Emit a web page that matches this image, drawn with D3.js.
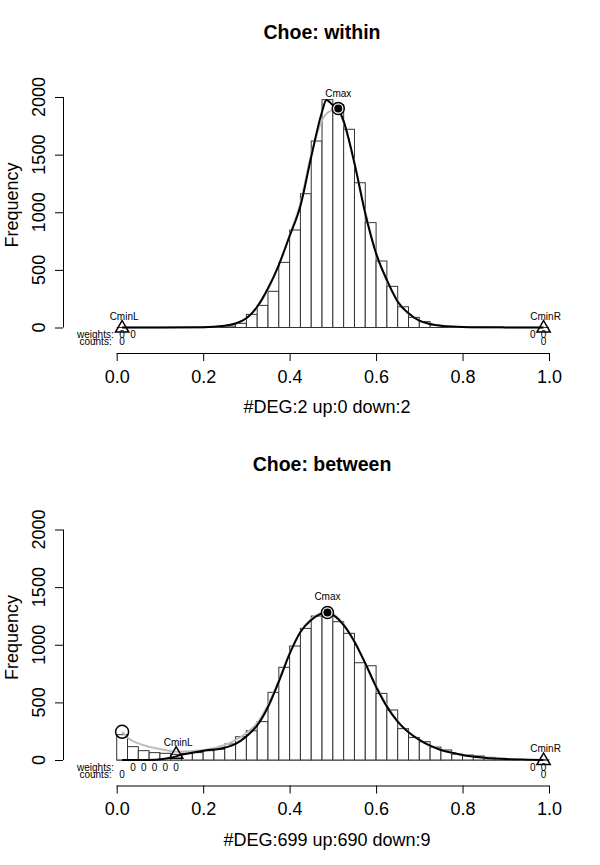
<!DOCTYPE html>
<html><head><meta charset="utf-8">
<script src="https://cdn.jsdelivr.net/npm/d3@7"></script>
<style>body{margin:0;background:#fff} text{font-family:"Liberation Sans",Arial,Helvetica,sans-serif;fill:#000}</style>
</head><body><svg id="c" width="600" height="865"></svg>
<script>
// ---------- data ----------
const titles = ["Choe: within", "Choe: between"];
const xLabels = ["#DEG:2 up:0 down:2", "#DEG:699 up:690 down:9"];
const xTicks = [0, 0.2, 0.4, 0.6, 0.8, 1.0];
const xTickLabels = ["0.0", "0.2", "0.4", "0.6", "0.8", "1.0"];
const yTicks = [0, 500, 1000, 1500, 2000];
const binWidth = 0.025;

const withinCounts = [0,0,0,0,0,0,0,0,0,3,12,36,114,192,314,565,846,1161,1618,1977,
                      1935,1720,1256,910,577,357,180,88,51,20,8,3,0,0,0,0,0,0,0,0];
const betweenCounts = [220,116,81,64,58,49,58,64,81,93,139,202,254,333,587,804,989,1142,1249,1265,
                       1200,1099,844,818,578,434,272,196,159,112,87,50,43,35,23,14,8,4,2,1];

const withinBlackX = [0.0125,0.1,0.2,0.25,0.275,0.3,0.325,0.35,0.375,0.4,0.425,0.45,0.475,0.485,0.5,0.5125,0.525,0.55,0.575,0.6,0.625,0.65,0.675,0.7,0.725,0.75,0.8,0.9,0.9875];
const withinBlackY = [0,0,3,15,35,80,180,340,542,794,1055,1482,1872,1974,1930,1900,1790,1424,990,643,412,224,123,59,30,15,5,1,0];
const withinGrayX = [0.0125,0.2,0.25,0.3,0.35,0.4,0.425,0.45,0.475,0.495,0.51,0.525,0.55,0.575,0.6,0.65,0.7,0.75,0.8,0.9,0.9875];
const withinGrayY = [0,3,15,80,330,800,1080,1500,1800,1880,1890,1780,1430,1000,650,230,60,15,5,0,0];

const betweenBlackX = [0.0125,0.05,0.09,0.125,0.15,0.2,0.25,0.275,0.3,0.325,0.35,0.375,0.4,0.425,0.45,0.4875,0.5,0.525,0.55,0.575,0.6,0.625,0.65,0.675,0.7,0.725,0.75,0.775,0.8,0.85,0.9,0.95,0.9875];
const betweenBlackY = [0,0,3,20,45,80,107,140,205,300,460,680,920,1110,1215,1280,1260,1171,1027,839,636,463,333,240,174,124,87,64,43,20,8,3,0];
const betweenGrayX = [0.0125,0.023,0.061,0.1,0.139,0.2,0.25,0.3,0.325,0.35,0.375,0.4,0.45,0.4875,0.525,0.55,0.6,0.65,0.7,0.8,0.9,0.9875];
const betweenGrayY = [245,202,130,95,72,85,130,235,320,480,690,930,1225,1285,1180,1030,640,335,175,45,8,0];

const withinMarks = [
  {label:"Cmax", x:0.5125, y:1900, kind:"max"},
  {label:"CminL", x:0.0125, y:0, kind:"min"},
  {label:"CminR", x:0.9875, y:0, kind:"min"}];
const betweenMarks = [
  {label:"", x:0.0125, y:245, kind:"open"},
  {label:"Cmax", x:0.4875, y:1280, kind:"max"},
  {label:"CminL", x:0.1375, y:55, kind:"min"},
  {label:"CminR", x:0.9875, y:0, kind:"min"}];

const withinWeightsX = [0.0125,0.0375,0.9625,0.9875];
const withinWeights = ["0","0","0","0"];
const withinCountsX = [0.0125,0.9875];
const withinCountsTxt = ["0","0"];
const betweenWeightsX = [0.0375,0.0625,0.0875,0.1125,0.1375,0.9625,0.9875];
const betweenWeights = ["0","0","0","0","0","0","0"];
const betweenCountsX = [0.0125,0.9875];
const betweenCountsTxt = ["0","0"];

const panels = [
  {title:titles[0], xlab:xLabels[0], counts:withinCounts, bx:withinBlackX, by:withinBlackY, gx:withinGrayX, gy:withinGrayY,
   marks:withinMarks, wx:withinWeightsX, w:withinWeights, cx:withinCountsX, c:withinCountsTxt},
  {title:titles[1], xlab:xLabels[1], counts:betweenCounts, bx:betweenBlackX, by:betweenBlackY, gx:betweenGrayX, gy:betweenGrayY,
   marks:betweenMarks, wx:betweenWeightsX, w:betweenWeights, cx:betweenCountsX, c:betweenCountsTxt}
];

// ---------- drawing ----------
const svg = d3.select("#c");
const x = d3.scaleLinear().domain([0, 1]).range([116.7, 549]);

panels.forEach((p, k) => {
  const off = k * 432.5;
  const g = svg.append("g").attr("transform", `translate(0,${off})`);
  const y = d3.scaleLinear().domain([0, 2000]).range([327.5, 97]);

  // title
  g.append("text").attr("x", 322).attr("y", 38.5).attr("text-anchor", "middle")
    .attr("font-weight", "bold").attr("font-size", 19.5).text(p.title);

  // bars
  g.append("line").attr("x1", x(0)).attr("x2", x(1)).attr("y1", y(0)).attr("y2", y(0))
    .attr("stroke", "#333").attr("stroke-width", 1);
  g.selectAll("rect.bar").data(p.counts).join("rect").attr("class", "bar")
    .attr("x", (d, i) => x(i * binWidth))
    .attr("width", (d, i) => x((i + 1) * binWidth) - x(i * binWidth))
    .attr("y", d => y(d)).attr("height", d => y(0) - y(d))
    .attr("fill", "#fff").attr("stroke", "#333").attr("stroke-width", 1);

  // curves
  const line = d3.line().x(d => x(d[0])).y(d => y(d[1])).curve(d3.curveMonotoneX);
  g.append("path").attr("d", line(d3.zip(p.gx, p.gy))).attr("fill", "none")
    .attr("stroke", "#bdbdbd").attr("stroke-width", 2);
  g.append("path").attr("d", line(d3.zip(p.bx, p.by))).attr("fill", "none")
    .attr("stroke", "#000").attr("stroke-width", 2);

  // marks
  p.marks.forEach(m => {
    const px = x(m.x), py = y(m.y);
    if (m.kind === "max") {
      g.append("circle").attr("cx", px).attr("cy", py).attr("r", 6).attr("fill", "#fff").attr("stroke", "#000").attr("stroke-width", 1.5);
      g.append("circle").attr("cx", px).attr("cy", py).attr("r", 4).attr("fill", "#000");
      g.append("text").attr("x", px).attr("y", py - 12).attr("text-anchor", "middle").attr("font-size", 10).text(m.label);
    } else if (m.kind === "open") {
      g.append("circle").attr("cx", px).attr("cy", py).attr("r", 6.5).attr("fill", "none").attr("stroke", "#000").attr("stroke-width", 1.5);
    } else {
      const s = 7;
      g.append("path").attr("d", `M${px},${py - s}L${px + s * 0.95},${py + s * 0.65}L${px - s * 0.95},${py + s * 0.65}Z`)
        .attr("fill", "none").attr("stroke", "#000").attr("stroke-width", 1.5);
      g.append("text").attr("x", px + 2).attr("y", py - 8).attr("text-anchor", "middle").attr("font-size", 10).text(m.label);
    }
  });

  // weights / counts
  g.append("text").attr("x", x(0) - 3).attr("y", y(0) + 10.5).attr("text-anchor", "end").attr("font-size", 10).text("weights:");
  g.append("text").attr("x", x(0) - 5).attr("y", y(0) + 17.5).attr("text-anchor", "end").attr("font-size", 10).text("counts:");
  p.wx.forEach((v, i) => g.append("text").attr("x", x(v)).attr("y", y(0) + 10.5).attr("text-anchor", "middle").attr("font-size", 10).text(p.w[i]));
  p.cx.forEach((v, i) => g.append("text").attr("x", x(v)).attr("y", y(0) + 17.5).attr("text-anchor", "middle").attr("font-size", 10).text(p.c[i]));

  // x axis
  const xa = g.append("g").attr("transform", "translate(0,353)")
    .call(d3.axisBottom(x).tickValues(xTicks).tickFormat((d, i) => xTickLabels[i]).tickSize(8).tickPadding(6));
  xa.select(".domain").attr("stroke", "#000").attr("d", `M${x(0)},0.5H${x(1)}`);
  xa.selectAll("text").attr("font-size", 18).attr("font-family", "Liberation Sans, Arial, sans-serif").attr("dy", "0.75em").attr("y", 16);
  g.append("text").attr("x", 327).attr("y", 413).attr("text-anchor", "middle").attr("font-size", 18).text(p.xlab);

  // y axis
  const ya = g.append("g").attr("transform", "translate(63,0)")
    .call(d3.axisLeft(y).tickValues(yTicks).tickFormat(d3.format("d")).tickSize(8));
  ya.select(".domain").attr("d", `M0.5,${y(0)}V${y(2000)}`);
  ya.selectAll(".tick text").remove();
  yTicks.forEach(t => {
    g.append("text").attr("transform", `translate(45,${y(t)}) rotate(-90)`).attr("text-anchor", "middle")
      .attr("font-size", 18).text(t);
  });
  g.append("text").attr("transform", `translate(18,205) rotate(-90)`).attr("text-anchor", "middle")
    .attr("font-size", 18).text("Frequency");
});
</script></body></html>
